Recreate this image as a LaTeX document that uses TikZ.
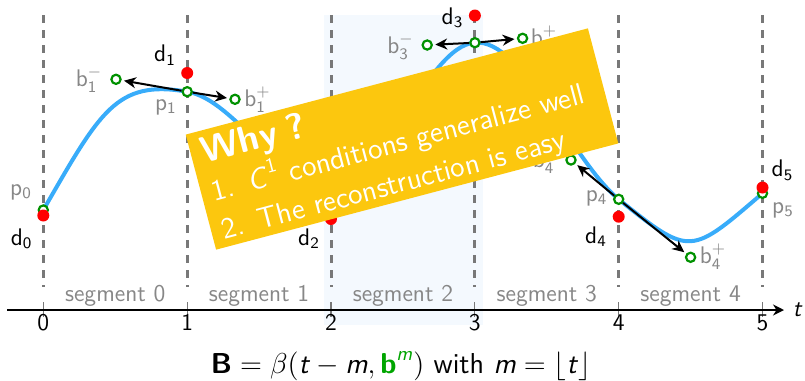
\documentclass[tikz,border=0pt]{standalone}
\usepackage{amsmath}
\usetikzlibrary{arrows.meta}
\definecolor{curveblue}{RGB}{56,172,250}
\definecolor{ptgreen}{RGB}{0,145,0}
\definecolor{formgreen}{RGB}{0,165,0}
\definecolor{labgray}{RGB}{135,135,135}
\definecolor{dashgray}{RGB}{120,120,120}
\definecolor{shadeblue}{RGB}{244,249,254}
\definecolor{boxyellow}{RGB}{252,199,14}
\newcommand\isf[1]{\textsf{\textit{#1}}}
\begin{document}
\begin{tikzpicture}[x=0.5pt,y=-0.5pt,
  every node/.style={font=\sffamily\fontsize{12}{14}\selectfont},
  ctrl/.style={circle,draw=ptgreen,fill=white,line width=1.1pt,minimum size=4.6pt,inner sep=0pt},
  datapt/.style={circle,fill=red,minimum size=6pt,inner sep=0pt},
  ptlab/.style={text=labgray,anchor=base,font=\sffamily\fontsize{11.5}{14}\selectfont},
  dlab/.style={text=black,anchor=base,font=\sffamily\fontsize{11.5}{14}\selectfont},
  seglab/.style={text=labgray,anchor=base},
  guide/.style={dashgray,line width=1.5pt,dash pattern=on 4.2pt off 3.3pt},
  tickmark/.style={dashgray,line width=0.6pt},
  axisline/.style={black,line width=1pt,-{Stealth[length=5.5pt,width=5.5pt]}},
  curve/.style={curveblue,line width=2pt},
  tang/.style={black,line width=1pt,shorten >=1.2pt,-{Stealth[length=6pt,width=5.5pt]}},
  whybox/.style={fill=boxyellow,text=white,rotate=14.8,minimum width=208pt,minimum height=59.5pt,
    text width=197pt,inner xsep=5.5pt,inner ysep=0pt,align=left,font=\sffamily\fontsize{14.8}{19.5}\selectfont},
]
\useasboundingbox (0,0) rectangle (805,381);
% shaded segment 2
\fill[shadeblue] (324,15) rectangle (483,325);
% guides, ticks, tick labels
\foreach \i in {0,...,5} {
  \pgfmathsetmacro\xx{43.3+143.85*\i}
  \draw[guide] (\xx,15) -- (\xx,287);
  \draw[tickmark] (\xx,302) -- (\xx,317);
  \node[anchor=base] (n\i) at (\xx,330) {\i};
}
\foreach \i in {0,...,4} {
  \pgfmathsetmacro\xx{43.3+143.85*(\i+0.5)}
  \node[seglab] (s\i) at (\xx,301.7) {segment \i};
}
% axis
\coordinate (axL) at (7,310);
\coordinate (axR) at (784,310);
\draw[axisline] (axL) -- (axR);
\node[anchor=base] (tlab) at (797,316.7) {\itshape t};
% formula
\node[anchor=base,font=\sffamily\fontsize{14.4}{17}\selectfont] (formula) at (401,373)
  {$\textbf{B} = \beta(\isf{t} - \isf{m}, \textcolor{formgreen}{\textbf{b}^{\isf{m}}})$ with $\isf{m} = \lfloor \isf{t} \rfloor$};
% curve geometry
\coordinate (P0) at (43.3,210);
\coordinate (B0p) at (100,112);
\coordinate (B1m) at (116,79.3);
\coordinate (P1) at (187.2,91.7);
\coordinate (B1p) at (235,99.3);
\coordinate (B2m) at (283.1,190);
\coordinate (P2) at (331,190);
\coordinate (B2p) at (378.9,190);
\coordinate (B3m) at (427.2,45);
\coordinate (P3) at (474.9,42.7);
\coordinate (B3p) at (522.6,38.3);
\coordinate (B4m) at (571,160);
\coordinate (P4) at (618.7,199.3);
\coordinate (B4p) at (690.6,257.3);
\coordinate (B5m) at (690.6,255);
\coordinate (P5) at (762.5,193.3);
\draw[curve] (P0) .. controls (B0p) and (B1m) .. (P1)
  .. controls (B1p) and (B2m) .. (P2)
  .. controls (B2p) and (B3m) .. (P3)
  .. controls (B3p) and (B4m) .. (P4)
  .. controls (B4p) and (B5m) .. (P5);
% control / curve points
\node[ctrl] (p0) at (P0) {};
\node[ctrl] (p1) at (P1) {};
\node[ctrl] (b1m) at (B1m) {};
\node[ctrl] (b1p) at (B1p) {};
\node[ctrl] (p3) at (P3) {};
\node[ctrl] (b3m) at (B3m) {};
\node[ctrl] (b3p) at (B3p) {};
\node[ctrl] (p4) at (P4) {};
\node[ctrl] (b4m) at (B4m) {};
\node[ctrl] (b4p) at (B4p) {};
\node[ctrl] (p5) at (P5) {};
% tangents
\draw[tang] (p1) -- (b1m);
\draw[tang] (p1) -- (b1p);
\draw[tang] (p3) -- (b3m);
\draw[tang] (p3) -- (b3p);
\draw[tang] (p4) -- (b4m);
\draw[tang] (p4) -- (b4p);
% data points
\node[datapt] (d0) at (43.3,215.5) {};
\node[datapt] (d1) at (187.2,73) {};
\node[datapt] (d2) at (331,219) {};
\node[datapt] (d3) at (474.9,15.5) {};
\node[datapt] (d4) at (618.7,216.7) {};
\node[datapt] (d5) at (762.5,187.5) {};
% labels
\node[ptlab] (lp0) at (21,195) {$\mathsf{p}_{\mathsf{0}}$};
\node[dlab]  (ld0) at (21.7,245) {$\mathsf{d}_{\mathsf{0}}$};
\node[dlab]  (ld1) at (165,61.7) {$\mathsf{d}_{\mathsf{1}}$};
\node[ptlab] (lp1) at (165.8,110.3) {$\mathsf{p}_{\mathsf{1}}$};
\node[ptlab] (lb1m) at (89,86.7) {$\mathsf{b}_{\mathsf{1}}^{-}$};
\node[ptlab] (lb1p) at (257.5,106.7) {$\mathsf{b}_{\mathsf{1}}^{+}$};
\node[dlab]  (ld2) at (309,245) {$\mathsf{d}_{\mathsf{2}}$};
\node[dlab]  (ld3) at (452.5,24) {$\mathsf{d}_{\mathsf{3}}$};
\node[ptlab] (lb3m) at (400.5,53.3) {$\mathsf{b}_{\mathsf{3}}^{-}$};
\node[ptlab] (lb3p) at (544,45) {$\mathsf{b}_{\mathsf{3}}^{+}$};
\node[ptlab] (lb4m) at (546,167) {$\mathsf{b}_{\mathsf{4}}^{-}$};
\node[ptlab] (lp4) at (596.7,201) {$\mathsf{p}_{\mathsf{4}}$};
\node[dlab]  (ld4) at (596,243.3) {$\mathsf{d}_{\mathsf{4}}$};
\node[ptlab] (lb4p) at (713,263.3) {$\mathsf{b}_{\mathsf{4}}^{+}$};
\node[dlab]  (ld5) at (782.5,176.7) {$\mathsf{d}_{\mathsf{5}}$};
\node[ptlab] (lp5) at (783,213) {$\mathsf{p}_{\mathsf{5}}$};
% the box
\node[whybox] (why) at (402,139) {\rule{0pt}{15.5pt}{\fontsize{18.5}{19.5}\selectfont\bfseries Why ?}\\
  1.\hspace{0.5em}$\isf{C}^{\textsf{1}}$ conditions generalize well\\
  2.\hspace{0.5em}The reconstruction is easy};
\end{tikzpicture}
\end{document}
